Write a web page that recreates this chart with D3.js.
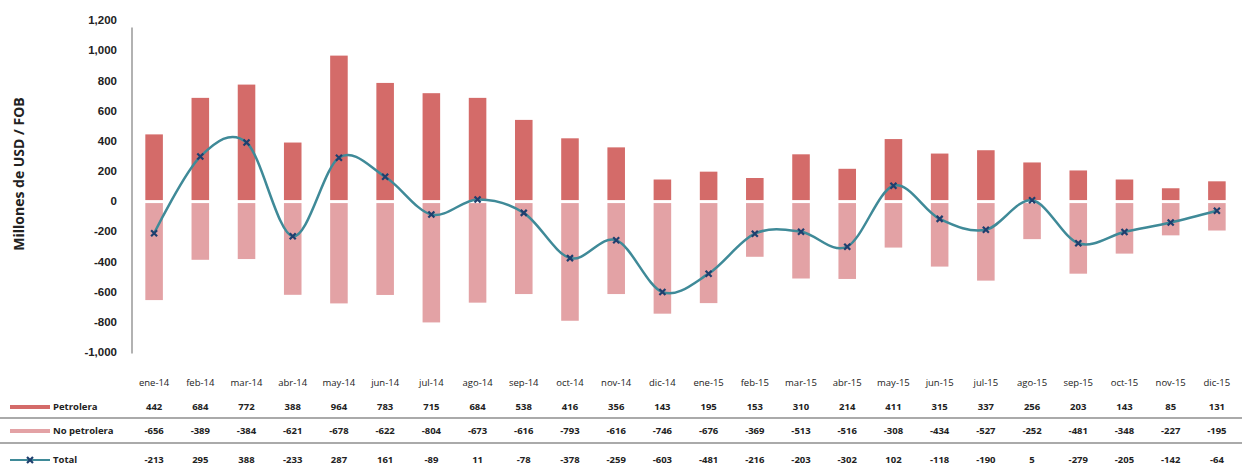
<!DOCTYPE html>
<html>
<head>
<meta charset="utf-8">
<script src="https://cdn.jsdelivr.net/npm/d3@7"></script>
<style>
  body { margin: 0; background: #fff; }
  svg { display: block; font-family: "Open Sans", "DejaVu Sans", sans-serif; }
</style>
</head>
<body>
<div id="chart"></div>
<script>
const months = ["ene-14","feb-14","mar-14","abr-14","may-14","jun-14","jul-14","ago-14","sep-14","oct-14","nov-14","dic-14",
                "ene-15","feb-15","mar-15","abr-15","may-15","jun-15","jul-15","ago-15","sep-15","oct-15","nov-15","dic-15"];
const petrolera = [442,684,772,388,964,783,715,684,538,416,356,143,195,153,310,214,411,315,337,256,203,143,85,131];
const noPetrolera = [-656,-389,-384,-621,-678,-622,-804,-673,-616,-793,-616,-746,-676,-369,-513,-516,-308,-434,-527,-252,-481,-348,-227,-195];
const total = [-213,295,388,-233,287,161,-89,11,-78,-378,-259,-603,-481,-216,-203,-302,102,-118,-190,5,-279,-205,-142,-64];
const yTicks = [1200,1000,800,600,400,200,0,-200,-400,-600,-800,-1000];

const width = 1242, height = 469;
const colPet = "#d46b69", colNo = "#e3a2a5", colLine = "#3f8a98", colMark = "#1f3f6e";

const svg = d3.select("#chart").append("svg")
    .attr("width", width)
    .attr("height", height);

const x = d3.scaleBand()
    .domain(months)
    .range([131, 1240])
    .paddingInner(0.62)
    .paddingOuter(0.31);

const y = d3.scaleLinear()
    .domain([-1000, 1200])
    .range([352, 20]);

const fmt = v => (v < 0 ? "-" : "") + d3.format(",")(Math.abs(v));

// y axis
const yAxis = d3.axisLeft(y)
    .tickValues(yTicks)
    .tickSize(0)
    .tickPadding(15)
    .tickFormat(fmt);

const gy = svg.append("g")
    .attr("transform", "translate(132,0)")
    .call(yAxis);
gy.select(".domain").attr("stroke", "#999").attr("stroke-width", 1.5)
    .attr("d", `M0,${y(1150)}V${y(-1010)}`);
gy.selectAll("text")
    .attr("font-size", 11.5)
    .attr("font-weight", 600)
    .attr("fill", "#222");

svg.append("text")
    .attr("transform", "translate(24,174) rotate(-90)")
    .attr("text-anchor", "middle")
    .attr("font-size", 14)
    .attr("font-weight", 700)
    .attr("fill", "#222")
    .text("Millones de USD / FOB");

// bars
svg.append("g").selectAll("rect")
    .data(months)
    .join("rect")
    .attr("x", d => x(d))
    .attr("width", x.bandwidth())
    .attr("y", (d, i) => y(petrolera[i]))
    .attr("height", (d, i) => y(0) - y(petrolera[i]) - 1)
    .attr("fill", colPet);

svg.append("g").selectAll("rect")
    .data(months)
    .join("rect")
    .attr("x", d => x(d))
    .attr("width", x.bandwidth())
    .attr("y", y(0) + 2)
    .attr("height", (d, i) => y(noPetrolera[i]) - y(0) - 2)
    .attr("fill", colNo);

// total line
const cx = d => x(d) + x.bandwidth() / 2;
const line = d3.line()
    .x((d, i) => cx(months[i]))
    .y(d => y(d))
    .curve(d3.curveCardinal.tension(0));

svg.append("path")
    .datum(total)
    .attr("d", line)
    .attr("fill", "none")
    .attr("stroke", colLine)
    .attr("stroke-width", 2.5);

function marker(g, px, py) {
    const s = 3;
    g.append("path")
        .attr("d", `M${px - s},${py - s}L${px + s},${py + s}M${px - s},${py + s}L${px + s},${py - s}`)
        .attr("stroke", colMark)
        .attr("stroke-width", 2.2);
}
const gm = svg.append("g");
total.forEach((v, i) => marker(gm, cx(months[i]), y(v)));

// data table
const table = svg.append("g").attr("font-size", 9.5).attr("fill", "#222");

table.selectAll(".cat")
    .data(months)
    .join("text")
    .attr("class", "cat")
    .attr("x", d => cx(d))
    .attr("y", 386)
    .attr("text-anchor", "middle")
    .text(d => d);

const rows = [
    { name: "Petrolera", values: petrolera, y: 410 },
    { name: "No petrolera", values: noPetrolera, y: 434 },
    { name: "Total", values: total, y: 463 }
];

rows.forEach(r => {
    table.append("g").selectAll("text")
        .data(r.values)
        .join("text")
        .attr("x", (d, i) => cx(months[i]))
        .attr("y", r.y)
        .attr("text-anchor", "middle")
        .attr("font-weight", 700)
        .text(d => d < 0 ? "-" + Math.abs(d) : d);
    table.append("text")
        .attr("x", 53)
        .attr("y", r.y)
        .attr("font-weight", 700)
        .text(r.name);
});

// row separators
[418, 443].forEach(ly => {
    svg.append("line")
        .attr("x1", 0).attr("x2", width)
        .attr("y1", ly).attr("y2", ly)
        .attr("stroke", "#aaa")
        .attr("stroke-width", 2);
});

// legend keys
svg.append("line").attr("x1", 10).attr("x2", 50).attr("y1", 407).attr("y2", 407)
    .attr("stroke", colPet).attr("stroke-width", 4);
svg.append("line").attr("x1", 10).attr("x2", 50).attr("y1", 431).attr("y2", 431)
    .attr("stroke", colNo).attr("stroke-width", 4);
svg.append("line").attr("x1", 10).attr("x2", 50).attr("y1", 460).attr("y2", 460)
    .attr("stroke", colLine).attr("stroke-width", 2);
marker(svg, 30, 460);
</script>
</body>
</html>
